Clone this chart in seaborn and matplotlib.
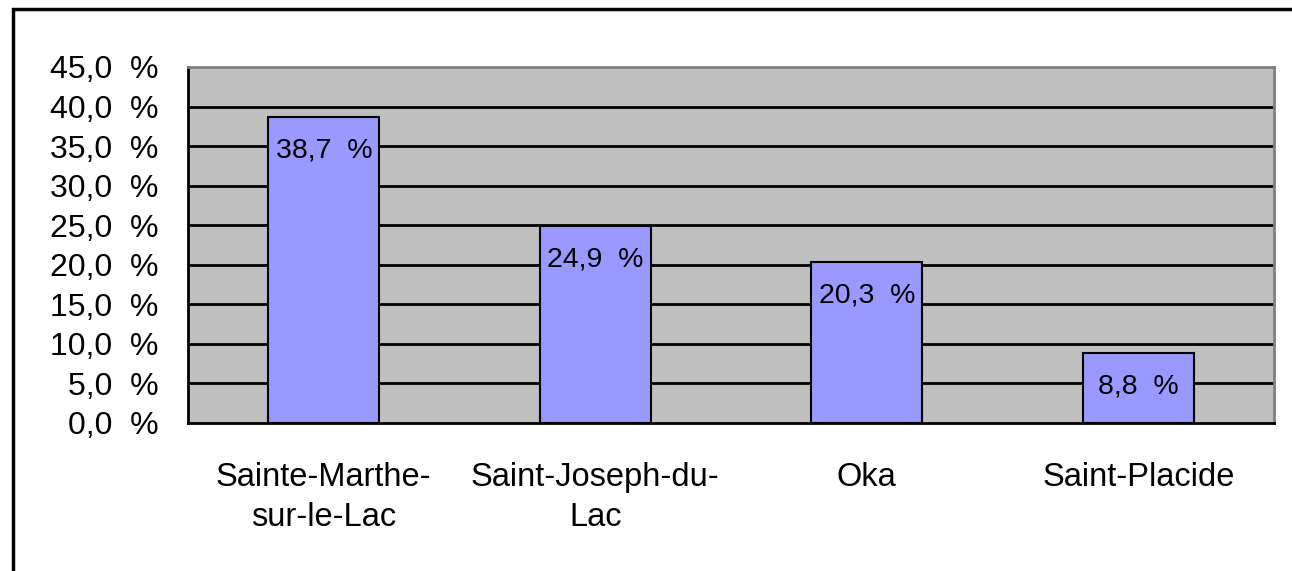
import matplotlib
matplotlib.use('Agg')
import matplotlib.pyplot as plt
import matplotlib.patches as patches
import seaborn as sns
import pandas as pd

# Data
municipalites = ['Sainte-Marthe-\nsur-le-Lac', 'Saint-Joseph-du-\nLac', 'Oka', 'Saint-Placide']
pourcentages = [38.7, 24.9, 20.3, 8.8]
y_ticks = [0, 5, 10, 15, 20, 25, 30, 35, 40, 45]

df = pd.DataFrame({'Municipalite': municipalites, 'Pourcentage': pourcentages})

sns.set_style('white')
plt.rcParams['font.family'] = ['Liberation Sans', 'DejaVu Sans']
plt.rcParams['text.color'] = 'black'
plt.rcParams['xtick.color'] = 'black'
plt.rcParams['ytick.color'] = 'black'

fig = plt.figure(figsize=(12.92, 5.71), dpi=100)
ax = fig.add_axes([188 / 1292, 1 - 423 / 571, (1274 - 188) / 1292, (423 - 67) / 571])
ax.set_facecolor('#C0C0C0')

# horizontal grid lines
for t in y_ticks[1:-1]:
    ax.axhline(t, color='black', linewidth=2, zorder=1)

sns.barplot(x='Municipalite', y='Pourcentage', data=df, color='#9999FF',
            edgecolor='black', linewidth=1.5, width=0.41, saturation=1, ax=ax, zorder=2)

# value labels inside bar tops
for i, v in enumerate(pourcentages):
    ax.annotate(f'{v:.1f}  %'.replace('.', ','), xy=(i, v), xytext=(0, -24),
                textcoords='offset points', ha='center', va='center', fontsize=20.5,
                color='black', zorder=3)

ax.set_ylim(0, 45)
ax.set_xlim(-0.5, len(municipalites) - 0.5)
ax.set_yticks(y_ticks)
ax.set_yticklabels([f'{t:.1f}  %'.replace('.', ',') for t in y_ticks], fontsize=23)
ax.set_xticks([i + 0.5 for i in range(-1, len(municipalites))], minor=False)
ax.set_xticklabels([''] * (len(municipalites) + 1))
ax.set_xticks(range(len(municipalites)), minor=True)
ax.set_xticklabels(municipalites, minor=True, fontsize=23.5, linespacing=1.4)
ax.tick_params(axis='x', which='minor', length=0, pad=28)
ax.tick_params(axis='x', which='major', length=9, width=2, direction='out', color='black')
ax.tick_params(axis='y', length=9, width=2, direction='out', color='black', pad=12)
ax.set_xlabel('')
ax.set_ylabel('')

for side in ['left', 'bottom']:
    ax.spines[side].set_color('black')
    ax.spines[side].set_linewidth(2)
for side in ['top', 'right']:
    ax.spines[side].set_color('#808080')
    ax.spines[side].set_linewidth(2)

# outer chart frame
fig.patches.append(patches.Rectangle((13 / 1292, -0.05), 1.1, 0.984 + 0.05, transform=fig.transFigure,
                                     fill=False, edgecolor='black', linewidth=2.5, clip_on=False))

fig.savefig('out.png', dpi=100)
